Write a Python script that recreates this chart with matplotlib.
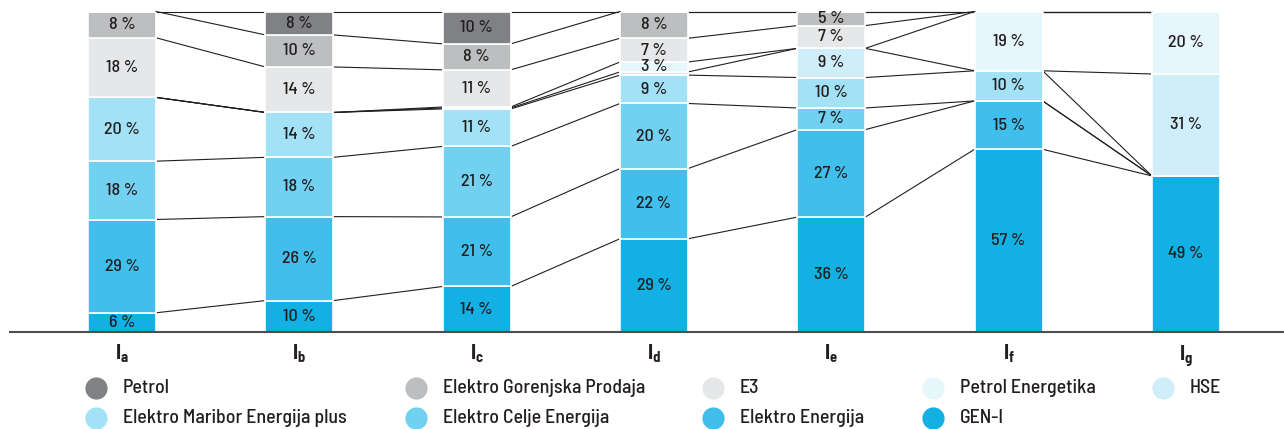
import matplotlib.pyplot as plt
from matplotlib.lines import Line2D
import numpy as np

plt.rcParams['font.family'] = ['Barlow Semi Condensed', 'DejaVu Sans']
plt.rcParams['mathtext.fontset'] = 'custom'
plt.rcParams['mathtext.rm'] = 'Barlow Semi Condensed'
plt.rcParams['mathtext.bf'] = 'Barlow Semi Condensed:bold'

categories = ['a', 'b', 'c', 'd', 'e', 'f', 'g']

# stack order, bottom to top
series = ['GEN-I', 'Elektro Energija', 'Elektro Celje Energija',
          'Elektro Maribor Energija plus', 'HSE', 'Petrol Energetika',
          'E3', 'Elektro Gorenjska Prodaja', 'Petrol']
colors = ['#12b0e3', '#41bfec', '#72d0f1', '#a2e1f6', '#cfeefa',
          '#e6f6fd', '#e6e7e8', '#bcbec0', '#808184']

gen_i = [6.0, 9.8, 14.2, 29.1, 35.85, 57.0, 48.7]
elektro_energija = [29.1, 26.2, 21.7, 21.9, 27.3, 15.1, 0]
celje = [18.2, 18.5, 22.0, 20.3, 6.75, 0, 0]
maribor = [19.9, 14.0, 11.7, 8.85, 9.5, 9.4, 0]
hse = [0, 0, 0.3, 1.0, 9.1, 0, 31.8]
petrol_energetika = [0, 0, 0.3, 3.1, 0, 18.5, 19.5]
e3 = [18.6, 14.2, 11.6, 7.4, 7.1, 0, 0]
gorenjska = [8.2, 10.0, 8.1, 8.35, 4.4, 0, 0]
petrol = [0, 7.3, 10.1, 0, 0, 0, 0]

# printed labels (None = no label)
lab_gen_i = [6, 10, 14, 29, 36, 57, 49]
lab_ee = [29, 26, 21, 22, 27, 15, None]
lab_celje = [18, 18, 21, 20, 7, None, None]
lab_maribor = [20, 14, 11, 9, 10, 10, None]
lab_hse = [None, None, None, None, 9, None, 31]
lab_pe = [None, None, None, 3, None, 19, 20]
lab_e3 = [18, 14, 11, 7, 7, None, None]
lab_gor = [8, 10, 8, 8, 5, None, None]
lab_petrol = [None, 8, 10, None, None, None, None]

values = np.array([gen_i, elektro_energija, celje, maribor, hse,
                   petrol_energetika, e3, gorenjska, petrol])
labels = [lab_gen_i, lab_ee, lab_celje, lab_maribor, lab_hse, lab_pe,
          lab_e3, lab_gor, lab_petrol]

W, H = 1284, 429
fig = plt.figure(figsize=(W / 100, H / 100), dpi=100)
ax = fig.add_axes([10 / W, 97 / H, 1 - 10 / W, 320.5 / H])

x = np.arange(len(categories))
w = 0.384
cum = np.vstack([np.zeros(len(x)), np.cumsum(values, axis=0)])

# connecting lines between boundaries
for i in range(len(x) - 1):
    for j in range(1, cum.shape[0]):
        ax.plot([x[i] + w / 2, x[i + 1] - w / 2], [cum[j, i], cum[j, i + 1]],
                color='#231f20', lw=0.8, zorder=1, clip_on=False)

for k in range(len(series)):
    ax.bar(x, values[k], w, bottom=cum[k], color=colors[k],
           edgecolor='white', linewidth=1.2, zorder=2)
    for i in range(len(x)):
        if labels[k][i] is not None:
            ax.text(x[i], cum[k, i] + values[k, i] / 2, f'{labels[k][i]} %',
                    ha='center', va='center', fontsize=13, fontweight=500,
                    color='#231f20', zorder=3)

ax.set_xlim(-0.632, 6.553)
ax.set_ylim(0, 100)
for s in ['top', 'right', 'left']:
    ax.spines[s].set_visible(False)
ax.spines['bottom'].set_color('#4d4d4f')
ax.spines['bottom'].set_linewidth(1.5)
ax.set_yticks([])
ax.set_xticks(x)
ax.set_xticklabels([r'$\mathbf{I_{%s}}$' % c for c in categories],
                   fontsize=15, color='#231f20')
ax.tick_params(axis='x', length=0, pad=8)

# legend, laid out in two rows
col_x = [96, 416, 713, 933, 1163]
row_y = [388, 418]
legend_order = [[8, 3], [7, 2], [6, 1], [5, 0], [4]]
for c, ks in enumerate(legend_order):
    for r, k in enumerate(ks):
        fig.add_artist(Line2D([col_x[c] / W], [1 - row_y[r] / H],
                              transform=fig.transFigure, ls='none',
                              marker='o', markersize=16,
                              markerfacecolor=colors[k],
                              markeredgecolor='none'))
        fig.text((col_x[c] + 27) / W, 1 - row_y[r] / H, series[k],
                 va='center', ha='left', fontsize=14.3, fontweight=500,
                 color='#231f20')

fig.savefig('out.png', dpi=100)
